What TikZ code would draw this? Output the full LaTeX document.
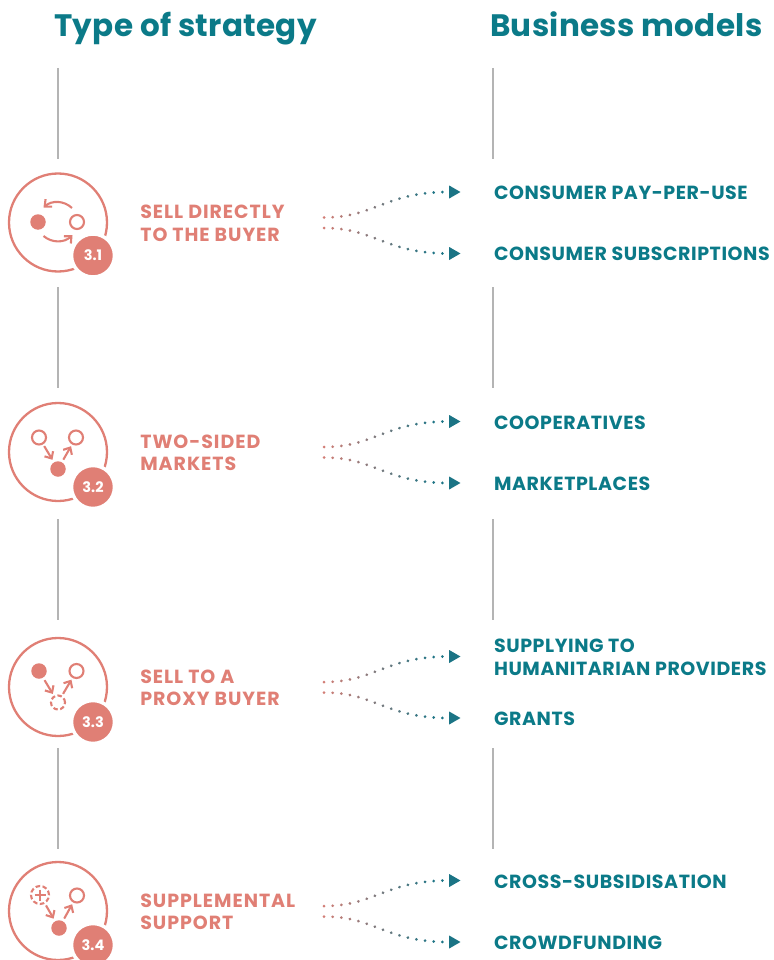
\documentclass[tikz,border=0pt]{standalone}
\usepackage{fontspec}
\setmainfont{Poppins}
\newfontfamily\headfont[LetterSpace=1]{Poppins}
\newfontfamily\modelfont[LetterSpace=3]{Poppins}
\newfontfamily\stratfont[LetterSpace=5]{Poppins}
\usetikzlibrary{arrows.meta, shapes.geometric, positioning, decorations.markings}
\definecolor{salmon}{HTML}{E07F75}
\definecolor{tealtext}{HTML}{0B7A88}
\definecolor{tealtip}{HTML}{1B7485}
\definecolor{railgray}{HTML}{B4B4B4}

\begin{document}
\begin{tikzpicture}[x=1pt, y=-1pt, node distance = 32pt]
\tikzstyle{heading}=[font=\headfont\fontsize{31}{36}\selectfont\bfseries, text=tealtext, inner sep=0pt, anchor=base west]
\tikzstyle{rail}=[draw=railgray, line width=1.2pt]
\tikzstyle{face}=[circle, draw=salmon, line width=2.3pt, minimum size=98pt, inner sep=0pt]
\tikzstyle{badge}=[circle, fill=salmon, draw=white, line width=3.5pt, minimum size=43pt, inner sep=0pt, text=white, font=\fontsize{14.5}{16}\selectfont\bfseries]
\tikzstyle{stratlabel}=[font=\stratfont\fontsize{19}{22.5}\selectfont\bfseries, text=salmon, align=left, inner sep=0pt, yshift=-0.8pt]
\tikzstyle{modellabel}=[font=\modelfont\fontsize{19}{22.5}\selectfont\bfseries, text=tealtext, align=left, inner sep=0pt, yshift=-0.8pt]
\tikzstyle{filled_dot}=[circle, fill=salmon, minimum size=15.5pt, inner sep=0pt, outer sep=3pt]
\tikzstyle{open_dot}=[circle, draw=salmon, line width=2.1pt, minimum size=14pt, inner sep=0pt, outer sep=3pt]
\tikzstyle{dash_dot}=[open_dot, dash pattern=on 4.5pt off 2.5pt]
\tikzstyle{iconarrow}=[draw=salmon, line width=2.1pt, -{Straight Barb[length=5.5pt,width=10pt]}]
\tikzstyle{plusbar}=[draw=salmon, line width=1.9pt]
\tikzstyle{tiphead}=[isosceles triangle, isosceles triangle apex angle=60, fill=tealtip, inner sep=0pt, minimum height=11pt, minimum width=13pt, anchor=west]
\tikzstyle{dotlink}=[decoration={markings, mark=between positions 0 and 1 step 8.7pt with {
	\pgfmathtruncatemacro\mixval{min(100,7*\pgfkeysvalueof{/pgf/decoration/mark info/sequence number})}
	\fill[tealtip!\mixval!salmon] (0,0) circle (1.5pt);}}, decorate]
%
\useasboundingbox (0,0) rectangle (773,960);

\node [heading] (typehead) at (54,37) {Type of strategy};
\node [heading] (modelhead) at (490,37) {Business models};

% rails
\coordinate (la1) at (58,68);   \coordinate (lb1) at (58,159);
\coordinate (la2) at (58,287);  \coordinate (lb2) at (58,388);
\coordinate (la3) at (58,519);  \coordinate (lb3) at (58,620);
\coordinate (la4) at (58,748);  \coordinate (lb4) at (58,849);
\coordinate (ra1) at (493,68);  \coordinate (rb1) at (493,159);
\coordinate (ra2) at (493,287); \coordinate (rb2) at (493,388);
\coordinate (ra3) at (493,519); \coordinate (rb3) at (493,620);
\coordinate (ra4) at (493,748); \coordinate (rb4) at (493,849);
\draw [rail] (la1) -- (lb1);
\draw [rail] (la2) -- (lb2);
\draw [rail] (la3) -- (lb3);
\draw [rail] (la4) -- (lb4);
\draw [rail] (ra1) -- (rb1);
\draw [rail] (ra2) -- (rb2);
\draw [rail] (ra3) -- (rb3);
\draw [rail] (ra4) -- (rb4);

% 3.1
\node [face] (face1) at (58,222.5) {};
\node [badge] (badge1) at (93,255.5) {3.1};
\node [filled_dot] (fill1) at (38,222) {};
\node [open_dot] (open1) at (77,222) {};
\coordinate (arca1) at (72,208);
\coordinate (arcb1) at (43.5,207.5);
\coordinate (arcc1) at (43.5,236);
\coordinate (arcd1) at (72.5,235);
\draw [iconarrow] (arca1) to [bend right=42] (arcb1);
\draw [iconarrow] (arcc1) to [bend right=42] (arcd1);
\node [stratlabel] (strat1) [right=of face1] {SELL DIRECTLY\\TO THE BUYER};
\node [tiphead] (tipa1) at (449,192) {};
\node [tiphead] (tipb1) at (449,253.5) {};
\coordinate (sa1) at (324,217.5);
\coordinate (sb1) at (324,228);
\draw [dotlink] (sa1) .. controls +(51,0) and +(-64,0) .. (tipa1.west);
\draw [dotlink] (sb1) .. controls +(51,0) and +(-64,0) .. (tipb1.west);
\node [modellabel] (modela1) [right=33pt of tipa1] {CONSUMER PAY-PER-USE};
\node [modellabel] (modelb1) [right=33pt of tipb1] {CONSUMER SUBSCRIPTIONS};

% 3.2
\node [face] (face2) at (58,452) {};
\node [badge] (badge2) at (93,487) {3.2};
\node [open_dot] (opena2) at (39,437.5) {};
\node [open_dot] (openb2) at (76,437.5) {};
\node [filled_dot] (fill2) at (58,469) {};
\draw [iconarrow] (opena2) -- (fill2);
\draw [iconarrow] (fill2) -- (openb2);
\node [stratlabel] (strat2) [right=of face2] {TWO-SIDED\\MARKETS};
\node [tiphead] (tipa2) at (449,421.5) {};
\node [tiphead] (tipb2) at (449,483) {};
\coordinate (sa2) at (324,447);
\coordinate (sb2) at (324,457.5);
\draw [dotlink] (sa2) .. controls +(51,0) and +(-64,0) .. (tipa2.west);
\draw [dotlink] (sb2) .. controls +(51,0) and +(-64,0) .. (tipb2.west);
\node [modellabel] (modela2) [right=33pt of tipa2] {COOPERATIVES};
\node [modellabel] (modelb2) [right=33pt of tipb2] {MARKETPLACES};

% 3.3
\node [face] (face3) at (58,687) {};
\node [badge] (badge3) at (93,722) {3.3};
\node [filled_dot] (fill3) at (39,671) {};
\node [open_dot] (open3) at (76.5,671) {};
\node [dash_dot] (dash3) at (58,702.5) {};
\draw [iconarrow] (fill3) -- (dash3);
\draw [iconarrow] (dash3) -- (open3);
\node [stratlabel] (strat3) [right=of face3] {SELL TO A\\PROXY BUYER};
\node [tiphead] (tipa3) at (449,656.5) {};
\node [tiphead] (tipb3) at (449,718) {};
\coordinate (sa3) at (324,682);
\coordinate (sb3) at (324,692.5);
\draw [dotlink] (sa3) .. controls +(51,0) and +(-64,0) .. (tipa3.west);
\draw [dotlink] (sb3) .. controls +(51,0) and +(-64,0) .. (tipb3.west);
\node [modellabel] (modela3) [right=33pt of tipa3] {SUPPLYING TO\\HUMANITARIAN PROVIDERS};
\node [modellabel] (modelb3) [right=33pt of tipb3] {GRANTS};

% 3.4
\node [face] (face4) at (58,911) {};
\node [badge] (badge4) at (93,945) {3.4};
\node [dash_dot, minimum size=18pt] (dash4) at (40,895) {};
\node [open_dot] (open4) at (77,895.5) {};
\node [filled_dot] (fill4) at (59,928) {};
\coordinate (plusl) at (34.5,895);
\coordinate (plusr) at (45.5,895);
\coordinate (plust) at (40,889.5);
\coordinate (plusb) at (40,900.5);
\draw [plusbar] (plusl) -- (plusr);
\draw [plusbar] (plust) -- (plusb);
\draw [iconarrow] (dash4) -- (fill4);
\draw [iconarrow] (fill4) -- (open4);
\node [stratlabel] (strat4) [right=of face4] {SUPPLEMENTAL\\SUPPORT};
\node [tiphead] (tipa4) at (449,880.5) {};
\node [tiphead] (tipb4) at (449,942) {};
\coordinate (sa4) at (324,906);
\coordinate (sb4) at (324,916.5);
\draw [dotlink] (sa4) .. controls +(51,0) and +(-64,0) .. (tipa4.west);
\draw [dotlink] (sb4) .. controls +(51,0) and +(-64,0) .. (tipb4.west);
\node [modellabel] (modela4) [right=33pt of tipa4] {CROSS-SUBSIDISATION};
\node [modellabel] (modelb4) [right=33pt of tipb4] {CROWDFUNDING};
%
\end{tikzpicture}
\end{document}
